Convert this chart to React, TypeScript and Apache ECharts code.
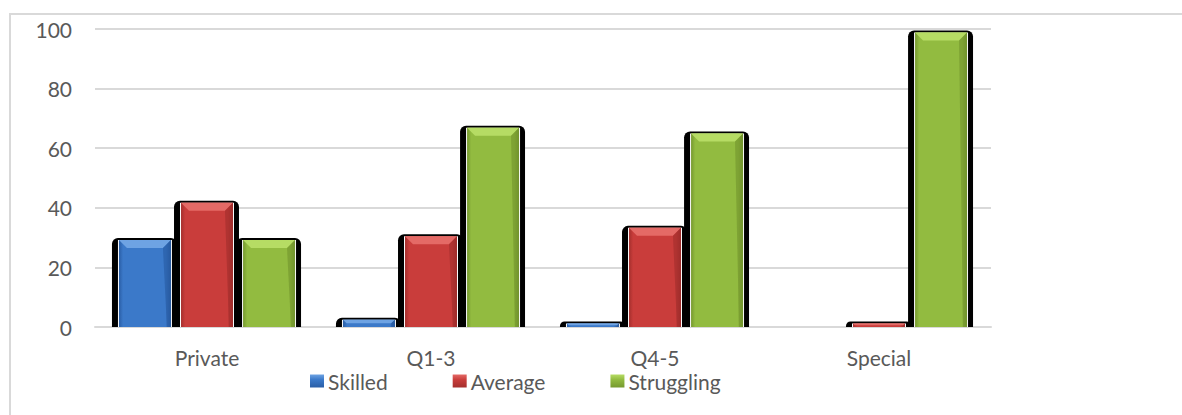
import React, { useEffect, useRef } from "react";
import * as echarts from "echarts";

const categories = ["Private", "Q1-3", "Q4-5", "Special"];
const seriesNames = ["Skilled", "Average", "Struggling"];
const skilled = [29.5, 2.8, 1.5, 0];
const average = [42, 30.8, 33.6, 1.5];
const struggling = [29.5, 67.2, 65.3, 99.2];
const yTicks = [0, 20, 40, 60, 80, 100];

const palette = [
  { main: "#3b79c9", light: "#6ea3e3", dark: "#2a5ea6", edge: "#244f8f" },
  { main: "#c93d3b", light: "#e46a66", dark: "#a52f2d", edge: "#8f2725" },
  { main: "#92bb40", light: "#b6dc64", dark: "#76992f", edge: "#678828" },
];

const FONT = "Lato, 'Open Sans', sans-serif";
const TEXT = "#595959";
const GRID = "#d9d9d9";

function makeRender(idx: number) {
  return (params: any, api: any) => {
    const cat = api.value(0);
    const val = api.value(1);
    const base = api.coord([cat, 0]);
    const top = api.coord([cat, val]);
    const band = api.size([1, 0])[0];
    const bw = band * 0.232;
    const step = band * 0.277;
    const cx = base[0] + (idx - 1) * step;
    const x0 = cx - bw / 2;
    const h = base[1] - top[1];
    if (h < 0.5) return { type: "group", children: [] };
    const c = palette[idx];
    const ty = top[1] + 1;
    const ch = Math.max(h - 1, 0.5);
    const d = Math.min(8, ch / 2);
    const r = Math.min(6, h);
    return {
      type: "group",
      children: [
        {
          type: "rect",
          shape: { x: x0 - 7, y: top[1] - 1, width: bw + 13, height: h + 1, r: [r, r, 0, 0] },
          style: { fill: "#000" },
        },
        {
          type: "rect",
          shape: { x: x0 - 1, y: ty, width: bw + 2, height: ch },
          style: { fill: "#fff" },
        },
        {
          type: "rect",
          shape: { x: x0, y: ty, width: bw, height: ch },
          style: {
            fill: new echarts.graphic.LinearGradient(0, 0, 1, 0, [
              { offset: 0, color: c.dark },
              { offset: 0.08, color: c.main },
              { offset: 0.5, color: c.main },
              { offset: 0.9, color: c.main },
              { offset: 1, color: c.edge },
            ]),
          },
        },
        {
          type: "polygon",
          shape: {
            points: [
              [x0, ty],
              [x0 + bw, ty],
              [x0 + bw - d, ty + d],
              [x0 + d, ty + d],
            ],
          },
          style: { fill: c.light },
        },
        {
          type: "polygon",
          shape: {
            points: [
              [x0 + bw, ty],
              [x0 + bw, ty + ch],
              [x0 + bw - Math.min(4, d), ty + ch],
              [x0 + bw - d, ty + d],
            ],
          },
          style: { fill: c.dark, opacity: 0.7 },
        },
      ],
    };
  };
}

export default function App() {
  const ref = useRef<HTMLDivElement>(null);
  useEffect(() => {
    if (!ref.current) return;
    const chart = echarts.init(ref.current, null, { renderer: "svg" });
    const datasets = [skilled, average, struggling];
    chart.setOption({
      animation: false,
      backgroundColor: "#fff",
      graphic: [
        {
          type: "rect",
          shape: { x: 10, y: 14, width: 1200, height: 450 },
          style: { fill: "none", stroke: GRID, lineWidth: 2 },
          silent: true,
          z: -1,
        },
      ],
      grid: { left: 95, right: 191, top: 29, bottom: 88 },
      legend: {
        left: 305,
        top: 365,
        itemWidth: 14,
        itemHeight: 13,
        itemGap: 65,
        icon: "rect",
        data: seriesNames,
        textStyle: { fontFamily: FONT, fontSize: 21, color: TEXT, lineHeight: 22, padding: [0, 0, 0, -1] },
      },
      xAxis: {
        type: "category",
        data: categories,
        axisLine: { show: true, lineStyle: { color: GRID, width: 2 } },
        axisTick: { show: false },
        axisLabel: { fontFamily: FONT, fontSize: 21, color: TEXT, margin: 20 },
      },
      yAxis: {
        type: "value",
        min: 0,
        max: 100,
        interval: 20,
        axisLine: { show: false },
        axisTick: { show: false },
        splitLine: { lineStyle: { color: GRID, width: 2 } },
        axisLabel: {
          fontFamily: FONT,
          fontSize: 21,
          color: TEXT,
          margin: 23,
          formatter: (v: number) => (yTicks.includes(v) ? String(v) : ""),
        },
      },
      series: datasets.map((arr, idx) => ({
        name: seriesNames[idx],
        type: "custom",
        renderItem: makeRender(idx),
        itemStyle: {
          color: new echarts.graphic.LinearGradient(0, 0, 0, 1, [
            { offset: 0, color: palette[idx].light },
            { offset: 0.4, color: palette[idx].main },
            { offset: 1, color: palette[idx].dark },
          ]),
        },
        encode: { x: 0, y: 1 },
        data: arr.map((v, i) => [i, v]),
      })),
    });
    return () => chart.dispose();
  }, []);
  return (
    <div
      ref={ref}
      style={{ position: "absolute", left: 0, top: 0, width: 1182, height: 415 }}
    />
  );
}
